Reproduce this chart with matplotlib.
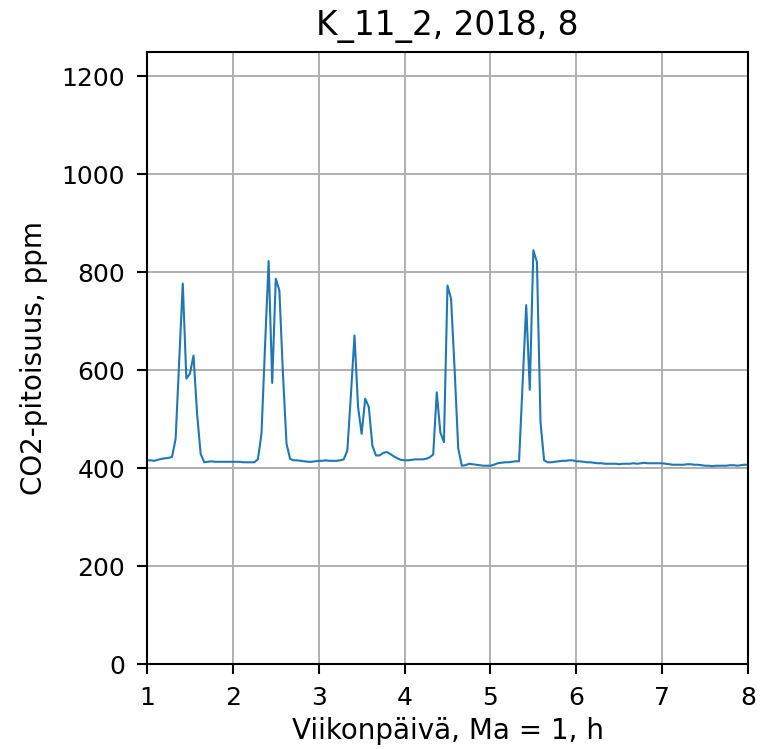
import numpy as np
import matplotlib
matplotlib.use("Agg")
import matplotlib.pyplot as plt

title = "K_11_2, 2018, 8"
xlabel = "Viikonpäivä, Ma = 1, h"
ylabel = "CO2-pitoisuus, ppm"

# hourly CO2 values per weekday (Mon..Sun), 24 values each
day1 = [416, 416, 415, 417, 419, 420, 421, 423, 460, 620, 777, 583, 593, 630, 511, 429, 412, 413, 414, 413, 413, 413, 413, 413]
day2 = [413, 413, 413, 412, 412, 412, 412, 418, 470, 650, 823, 574, 787, 763, 593, 450, 419, 416, 416, 415, 414, 413, 413, 414]
day3 = [415, 415, 416, 415, 415, 415, 416, 418, 436, 550, 671, 525, 470, 542, 525, 446, 426, 426, 431, 433, 429, 424, 420, 417]
day4 = [416, 416, 417, 418, 418, 418, 419, 422, 428, 555, 473, 453, 773, 746, 600, 440, 405, 406, 409, 408, 407, 406, 405, 405]
day5 = [405, 407, 410, 411, 412, 412, 413, 414, 414, 575, 733, 560, 845, 821, 494, 416, 412, 412, 413, 414, 415, 415, 416, 416]
day6 = [414, 414, 413, 412, 412, 411, 410, 410, 409, 409, 409, 409, 408, 409, 409, 409, 410, 409, 410, 411, 410, 410, 410, 410]
day7 = [410, 409, 408, 407, 407, 407, 407, 408, 408, 407, 407, 406, 405, 405, 404, 405, 405, 405, 405, 406, 406, 405, 406, 407]
last_value = [407]

co2 = np.array(day1 + day2 + day3 + day4 + day5 + day6 + day7 + last_value, dtype=float)
x = 1 + np.arange(len(co2)) / 24.0

plt.rcParams["font.size"] = 18
fig = plt.figure(figsize=(7.6, 7.49), dpi=100)
ax = fig.add_axes([147 / 760, 1 - 664 / 749, (748 - 147) / 760, (664 - 52) / 749])
ax.plot(x, co2, color="#1f77b4", linewidth=1.5)
ax.set_xlim(1, 8)
ax.set_ylim(0, 1250)
ax.set_xticks(range(1, 9))
ax.set_yticks(range(0, 1201, 200))
ax.grid(True, color="#b0b0b0", linewidth=1.4)
ax.tick_params(labelsize=18, length=7.2, width=1.5, pad=8.5)
for s in ax.spines.values():
    s.set_linewidth(1.5)
ax.set_title(title, fontsize=23.5, pad=12)
ax.set_xlabel(xlabel, fontsize=20, labelpad=5)
ax.set_ylabel(ylabel, fontsize=20, labelpad=10)
fig.savefig("out.png", dpi=100)
